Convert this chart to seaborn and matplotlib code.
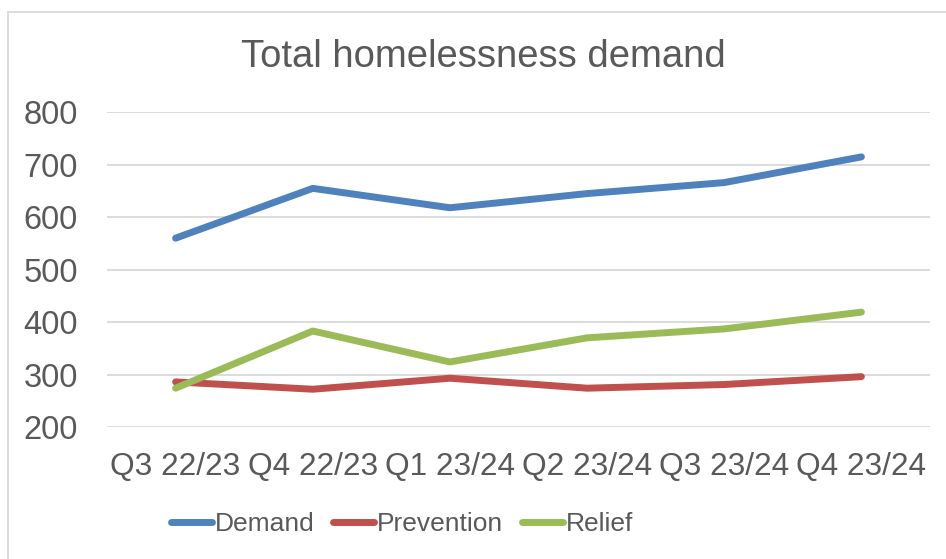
import pandas as pd
import matplotlib.pyplot as plt
import seaborn as sns
from matplotlib.lines import Line2D

# data
quarters = ['Q3 22/23', 'Q4 22/23', 'Q1 23/24', 'Q2 23/24', 'Q3 23/24', 'Q4 23/24']
demand = [560, 655, 618, 645, 666, 715]
prevention = [286, 272, 293, 274, 281, 296]
relief = [274, 383, 324, 370, 387, 419]

df = pd.DataFrame({
    'Quarter': quarters * 3,
    'Value': demand + prevention + relief,
    'Series': ['Demand'] * 6 + ['Prevention'] * 6 + ['Relief'] * 6,
})

sns.set_style('white')
plt.rcParams['font.family'] = ['Liberation Sans', 'DejaVu Sans']
txt = '#595959'

fig = plt.figure(figsize=(9.46, 5.59), dpi=100)
ax = fig.add_axes([107/946, 1 - 427/559, 823/946, (427 - 112.3)/559])

pal = {'Demand': '#4F81BD', 'Prevention': '#C0504D', 'Relief': '#9BBB59'}
sns.lineplot(data=df, x='Quarter', y='Value', hue='Series', palette=pal,
             linewidth=5, ax=ax, sort=False, solid_capstyle='round')

ax.set_ylim(200, 800)
ax.set_xlim(-0.5, 5.5)
ax.set_yticks(range(200, 801, 100))
ax.yaxis.grid(True, color='#d9d9d9', linewidth=1.3)
ax.set_axisbelow(True)
for s in ax.spines.values():
    s.set_visible(False)
ax.tick_params(axis='y', labelsize=23.5, colors=txt, length=0, pad=21)
ax.tick_params(axis='x', labelsize=22.8, colors=txt, length=0, pad=18)
ax.set_xlabel('')
ax.set_ylabel('')

fig.text(483/946, 1 - 57/559, 'Total homelessness demand', ha='center', va='center',
         fontsize=27.5, color=txt)

handles, labels = ax.get_legend_handles_labels()
ax.legend_.remove()
leg = fig.legend(handles, labels, loc='center', bbox_to_anchor=(402/946, 1 - 524/559),
                 ncol=3, frameon=False, fontsize=19, handlelength=1.55,
                 handletextpad=0.12, columnspacing=0.7)
for t in leg.get_texts():
    t.set_color(txt)

# outer chart border (left and top)
fig.add_artist(Line2D([8/946, 8/946], [0, 1 - 12/559], color='#d9d9d9', lw=1.3))
fig.add_artist(Line2D([8/946, 1], [1 - 12/559, 1 - 12/559], color='#d9d9d9', lw=1.3))

fig.savefig('out.png', dpi=100)
